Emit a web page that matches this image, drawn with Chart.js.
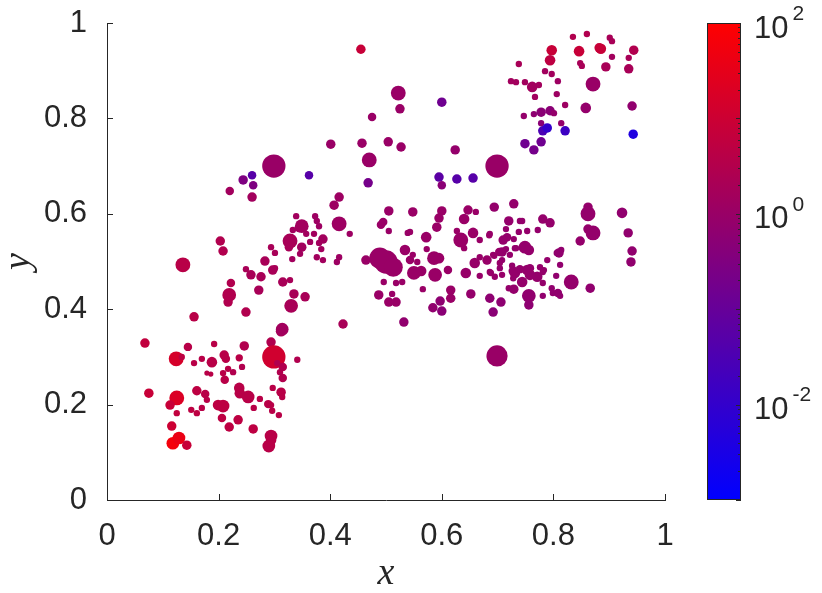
<!DOCTYPE html>
<html>
<head>
<meta charset="utf-8">
<script src="https://cdn.jsdelivr.net/npm/chart.js@4.4.1/dist/chart.umd.min.js"></script>
<style>
  html, body { margin: 0; padding: 0; background: #fff; }
</style>
</head>
<body>
<canvas id="chart" width="822" height="593"></canvas>
<script>
// point data: x, y, marker area and the colour value (log colour scale)
const xVals = [
  // lower left
  0.068,0.145,0.192,0.246,0.294,0.312,0.124,0.134,0.156,0.170,
  0.188,0.210,0.213,0.237,0.242,0.208,0.217,0.226,0.179,0.186,
  0.211,0.299,0.305,0.315,0.315,0.310,0.341,0.075,0.125,0.113,
  0.125,0.161,0.176,0.179,0.170,0.161,0.151,0.199,0.208,0.206,
  0.219,0.235,0.237,0.238,0.253,0.263,0.274,0.289,0.296,0.294,
  0.308,0.297,0.312,0.314,0.262,0.116,0.118,0.129,0.143,0.294,
  0.294,0.290,
  // middle left
  0.220,0.260,0.416,0.407,0.339,0.373,0.376,0.380,0.349,0.344,
  0.333,0.416,0.435,0.357,0.371,0.387,0.328,0.326,0.364,0.380,
  0.384,0.349,0.346,0.376,0.387,0.416,0.412,0.332,0.294,0.301,
  0.203,0.208,0.283,0.297,0.301,0.249,0.258,0.276,0.315,0.328,
  0.222,0.219,0.217,0.272,0.335,0.355,0.330,0.249,0.314,0.423,
  0.136,0.156,0.299,0.260,0.362,0.244,0.262,
  // top middle
  0.455,0.522,0.525,0.600,0.475,0.401,0.457,0.504,0.527,0.624,
  0.470,0.468,0.595,0.600,0.627,0.656,0.699,
  // centre cluster
  0.505,0.548,0.600,0.647,0.661,0.694,0.729,0.595,0.591,0.495,
  0.491,0.505,0.539,0.543,0.572,0.640,0.656,0.627,0.668,0.685,
  0.634,0.640,0.720,0.740,0.744,0.715,0.717,0.729,0.738,0.753,
  0.772,0.781,0.794,0.749,0.756,0.806,0.731,0.715,0.464,0.500,
  0.489,0.513,0.534,0.548,0.543,0.556,0.573,0.586,0.595,0.550,
  0.563,0.588,0.611,0.643,0.659,0.668,0.681,0.694,0.703,0.704,
  0.688,0.695,0.708,0.668,0.726,0.731,0.728,0.744,0.753,0.758,
  0.771,0.776,0.783,0.789,0.781,0.797,0.805,0.808,0.799,0.781,
  0.756,0.756,0.729,0.720,0.706,0.692,0.686,0.652,0.616,0.616,
  0.597,0.584,0.600,0.566,0.529,0.518,0.496,0.511,0.487,0.505,
  0.518,0.532,0.699,
  // right
  0.862,0.862,0.871,0.862,0.848,0.686,
  0.710,0.733,0.722,0.708,0.692,0.681,0.708,0.704,0.686,0.728,
  0.740,0.758,0.781,0.810,0.814,0.812,0.812,0.832,0.866,0.923,
  0.934,0.941,0.939,
  // top right
  0.738,0.724,0.733,0.749,0.762,0.774,0.767,0.747,0.765,0.778,
  0.794,0.801,0.778,0.781,0.789,0.821,0.814,0.749,0.765,0.778,
  0.785,0.797,0.808,0.806,0.821,0.797,0.794,0.835,0.860,0.846,
  0.848,0.851,0.882,0.885,0.901,0.905,0.905,0.894,0.871,0.858,
  0.944,0.935,0.935,0.941,0.943
];
const yVals = [
  0.329,0.321,0.327,0.323,0.331,0.354,0.296,0.300,0.287,0.296,
  0.289,0.304,0.296,0.298,0.279,0.266,0.275,0.268,0.266,0.264,
  0.252,0.300,0.287,0.279,0.256,0.268,0.294,0.224,0.214,0.199,
  0.182,0.229,0.222,0.210,0.193,0.182,0.189,0.199,0.197,0.172,
  0.153,0.168,0.235,0.224,0.216,0.193,0.212,0.201,0.187,0.199,
  0.178,0.235,0.226,0.216,0.149,0.155,0.119,0.130,0.115,0.134,
  0.126,0.113,
  0.648,0.635,0.635,0.618,0.595,0.595,0.585,0.574,0.574,0.570,
  0.566,0.579,0.558,0.558,0.558,0.547,0.543,0.530,0.541,0.539,
  0.526,0.530,0.516,0.509,0.503,0.509,0.499,0.505,0.530,0.518,
  0.543,0.522,0.501,0.482,0.486,0.484,0.472,0.468,0.457,0.461,
  0.455,0.430,0.415,0.440,0.432,0.426,0.407,0.394,0.358,0.369,
  0.493,0.384,0.700,0.681,0.681,0.671,0.660,
  0.945,0.853,0.820,0.834,0.803,0.746,0.748,0.751,0.740,0.734,
  0.713,0.665,0.677,0.660,0.673,0.675,0.700,
  0.606,0.604,0.606,0.608,0.604,0.614,0.621,0.591,0.572,0.583,
  0.577,0.564,0.560,0.562,0.551,0.589,0.560,0.564,0.545,0.555,
  0.545,0.528,0.585,0.585,0.585,0.568,0.551,0.547,0.562,0.564,
  0.566,0.589,0.581,0.530,0.524,0.518,0.528,0.526,0.503,0.499,
  0.507,0.488,0.524,0.514,0.503,0.499,0.526,0.507,0.507,0.476,
  0.480,0.472,0.482,0.476,0.497,0.509,0.501,0.512,0.520,0.497,
  0.476,0.468,0.472,0.470,0.491,0.476,0.465,0.457,0.482,0.486,
  0.468,0.488,0.482,0.503,0.455,0.444,0.470,0.434,0.434,0.428,
  0.428,0.409,0.442,0.444,0.415,0.394,0.423,0.432,0.440,0.423,
  0.417,0.403,0.396,0.442,0.457,0.455,0.457,0.432,0.430,0.415,
  0.415,0.373,0.302,
  0.614,0.600,0.560,0.568,0.543,0.558,
  0.545,0.528,0.514,0.520,0.514,0.503,0.503,0.486,0.478,0.480,
  0.484,0.472,0.478,0.518,0.524,0.493,0.428,0.457,0.444,0.602,
  0.560,0.522,0.499,
  0.914,0.878,0.876,0.876,0.866,0.870,0.845,0.805,0.809,0.813,
  0.816,0.811,0.790,0.774,0.780,0.774,0.790,0.747,0.734,0.751,
  0.899,0.893,0.878,0.851,0.828,0.943,0.922,0.971,0.977,0.941,
  0.916,0.910,0.948,0.946,0.969,0.962,0.929,0.908,0.872,0.822,
  0.943,0.927,0.904,0.826,0.767
];
const markerArea = [
  20,16,9,20,20,25,49,9,9,9,
  25,20,16,12,9,9,9,9,6,6,
  16,121,9,16,16,9,9,20,49,20,
  9,20,16,9,9,9,9,25,36,16,
  20,20,25,25,36,9,9,16,9,9,
  9,9,20,9,20,20,36,36,20,36,
  25,36,
  16,20,20,20,9,9,9,9,42,16,
  9,49,9,9,9,20,49,16,9,9,
  9,20,9,9,9,9,9,9,9,9,
  20,20,20,20,9,9,20,20,20,9,
  16,42,20,20,20,20,42,20,36,20,
  49,20,121,16,16,20,16,
  20,49,20,20,16,20,20,20,20,20,
  49,20,20,16,20,20,121,
  20,20,20,20,9,20,20,20,20,16,
  16,9,9,9,25,25,25,9,9,9,
  49,9,20,9,9,9,16,9,9,9,
  9,20,20,36,25,9,9,9,20,121,
  100,81,25,9,16,9,9,42,25,42,
  25,42,16,25,25,9,9,9,16,9,
  9,9,9,9,9,25,9,25,25,16,
  25,9,9,9,9,9,9,16,9,9,
  42,20,20,9,20,20,20,20,20,20,
  20,20,20,9,9,9,9,9,20,20,
  20,20,100,
  20,49,49,20,20,9,
  20,9,9,20,9,20,9,9,9,20,
  16,25,9,20,9,9,9,49,20,25,
  20,20,20,
  9,9,9,9,25,9,9,9,9,20,
  20,9,9,20,20,20,9,20,20,20,
  9,9,9,9,9,25,25,9,9,25,
  9,9,20,25,9,9,9,20,49,25,
  20,9,20,20,20
];
const colorVals = [
  6,4,4,3,3,2,15,5,4,4,
  4,4,4,4,3,4,4,3,4,4,
  4,12,3,3,3,3,3,8,20,8,
  6,5,4,4,4,5,5,5,5,5,
  5,5,4,4,4,4,4,4,4,4,
  4,4,4,4,5,10,60,40,8,4,
  4,4,
  1.5,1.5,1.2,1.2,1.5,1.2,1.2,1.2,1.5,1.5,
  1.5,1.2,1.2,1.5,1.5,1.5,2,2,1.5,1.5,
  1.5,1.5,1.5,1.5,1.5,1.2,1.2,1.5,2,2,
  3,3,2,2,2,2,2,2,2,2,
  3,3,3,2,2,2,2,3,1.5,2,
  4,4,1,0.05,0.05,0.3,0.3,
  8,1,1,0.15,1,1,1,1,1,0.8,
  1,0.2,0.06,0.5,0.05,0.05,1,
  1,1,1,1,1,0.8,0.8,1,1,1,
  1,1,1,1,1,1,1,1,1,1,
  1,1,0.8,0.8,0.8,0.8,0.8,0.8,0.8,0.8,
  0.8,0.8,0.8,0.8,0.8,0.7,0.8,0.8,1,1,
  1,1,1,1,1,1,1,1,1,1,
  1,1,1,0.9,0.9,0.9,0.9,0.9,0.9,0.9,
  0.9,0.9,0.9,0.9,0.8,0.8,0.8,0.8,0.8,0.8,
  0.8,0.8,0.8,0.8,0.8,0.7,0.7,0.7,0.7,0.7,
  0.7,0.6,0.8,0.8,0.6,0.5,0.6,0.8,1,1,
  0.6,0.7,0.5,1,1,1,1,1,1,1,
  1,0.7,1,
  0.8,0.8,0.8,0.8,0.8,0.9,
  0.8,0.8,0.8,0.8,0.9,0.9,0.8,0.8,0.9,0.8,
  0.8,0.8,0.8,0.7,0.7,0.7,0.7,0.8,0.7,0.7,
  0.7,0.7,0.7,
  2,1.5,1.5,1.5,1.5,1.5,1.5,0.8,0.6,0.5,
  0.5,0.8,0.5,0.03,0.01,0.015,0.8,0.15,0.2,0.15,
  1.5,1.5,1.2,1.2,1.2,8,5,3,3,8,
  2,2,8,8,2,2,1.5,2,1,0.8,
  3,2,2,0.7,0.004
];

const xTicks = [0, 0.2, 0.4, 0.6, 0.8, 1];
const yTicks = [0, 0.2, 0.4, 0.6, 0.8, 1];
const cbarLog = [-3, 2];          // colour limits, log10
const cbarLabels = [-2, 0, 2];    // labelled decades

const ink = '#262626';
const tickFont = "'Liberation Sans', Arial, sans-serif";
const titleFont = { family: "'Liberation Serif', 'DejaVu Serif', serif", style: 'italic', size: 38, lineHeight: 1 };

// blue -> red colormap on log scale
function cmap(v) {
  let t = (Math.log10(v) - cbarLog[0]) / (cbarLog[1] - cbarLog[0]);
  t = Math.min(1, Math.max(0, t));
  return 'rgb(' + Math.round(255 * t) + ',0,' + Math.round(255 * (1 - t)) + ')';
}

const points = xVals.map((x, i) => ({ x: x, y: yVals[i], r: Math.sqrt(markerArea[i]) * 1.06 }));
const colors = colorVals.map(cmap);
const fmtTick = v => String(Math.round(v * 10) / 10);

// ticks drawn inside the axes, like the original
const inwardTicks = {
  id: 'inwardTicks',
  afterDraw(chart) {
    const { ctx, chartArea: a, scales } = chart;
    ctx.save();
    ctx.strokeStyle = ink;
    ctx.lineWidth = 1;
    ctx.beginPath();
    xTicks.forEach(v => {
      const px = Math.round(scales.x.getPixelForValue(v)) + 0.5;
      ctx.moveTo(px, a.bottom);
      ctx.lineTo(px, a.bottom - 6);
    });
    yTicks.forEach(v => {
      const py = Math.round(scales.y.getPixelForValue(v)) + 0.5;
      ctx.moveTo(a.left, py);
      ctx.lineTo(a.left + 6, py);
    });
    ctx.stroke();
    ctx.restore();
  }
};

const colorbar = {
  id: 'colorbar',
  afterDraw(chart) {
    const { ctx, chartArea: a } = chart;
    const left = a.right + 42, w = 34;
    const top = a.top, bot = a.bottom, h = bot - top;
    const grad = ctx.createLinearGradient(0, bot, 0, top);
    grad.addColorStop(0, 'rgb(0,0,255)');
    grad.addColorStop(1, 'rgb(255,0,0)');
    ctx.save();
    ctx.fillStyle = grad;
    ctx.fillRect(left, top, w, h);
    ctx.strokeStyle = ink;
    ctx.lineWidth = 1;
    ctx.strokeRect(left + 0.5, top + 0.5, w - 1, h - 1);

    const yOf = e => bot - (e - cbarLog[0]) / (cbarLog[1] - cbarLog[0]) * h;
    ctx.beginPath();
    for (let e = cbarLog[0]; e < cbarLog[1]; e++) {
      for (let m = 1; m < 10; m++) {
        const py = Math.round(yOf(e + Math.log10(m))) + 0.5;
        const len = m === 1 ? 5 : 3;
        ctx.moveTo(left + w, py);
        ctx.lineTo(left + w - len, py);
      }
    }
    ctx.stroke();

    ctx.fillStyle = ink;
    ctx.textBaseline = 'middle';
    cbarLabels.forEach(e => {
      const py = yOf(e);
      ctx.font = '31px ' + tickFont;
      ctx.textAlign = 'left';
      const x0 = left + w + 13;
      ctx.fillText('10', x0, py + 6);
      const w10 = ctx.measureText('10').width;
      ctx.font = '21px ' + tickFont;
      ctx.fillText(String(e), x0 + w10 + 4, py - 9);
    });
    ctx.restore();
  }
};

new Chart(document.getElementById('chart'), {
  type: 'bubble',
  data: {
    datasets: [{
      data: points,
      backgroundColor: colors,
      hoverBackgroundColor: colors,
      borderWidth: 0,
      hoverBorderWidth: 0
    }]
  },
  options: {
    responsive: false,
    animation: false,
    events: [],
    layout: { padding: { top: 23, right: 157, bottom: 0, left: 0 } },
    plugins: { legend: { display: false }, tooltip: { enabled: false } },
    scales: {
      x: {
        type: 'linear', min: 0, max: 1,
        afterFit(scale) { scale.height = 93; scale.paddingLeft = 0; scale.paddingRight = 0; },
        grid: { display: false },
        border: { display: true, color: ink, width: 1 },
        ticks: { stepSize: 0.2, padding: 10, color: ink, font: { family: tickFont, size: 31 }, callback: fmtTick },
        title: { display: true, text: 'x', color: ink, padding: 0, font: titleFont }
      },
      y: {
        type: 'linear', min: 0, max: 1,
        afterFit(scale) { scale.width = 107; scale.paddingTop = 0; scale.paddingBottom = 0; },
        grid: { display: false },
        border: { display: true, color: ink, width: 1 },
        ticks: { stepSize: 0.2, padding: 12, color: ink, font: { family: tickFont, size: 31 }, callback: fmtTick },
        title: { display: true, text: 'y', color: ink, padding: 0, font: titleFont }
      }
    }
  },
  plugins: [inwardTicks, colorbar]
});
</script>
</body>
</html>
